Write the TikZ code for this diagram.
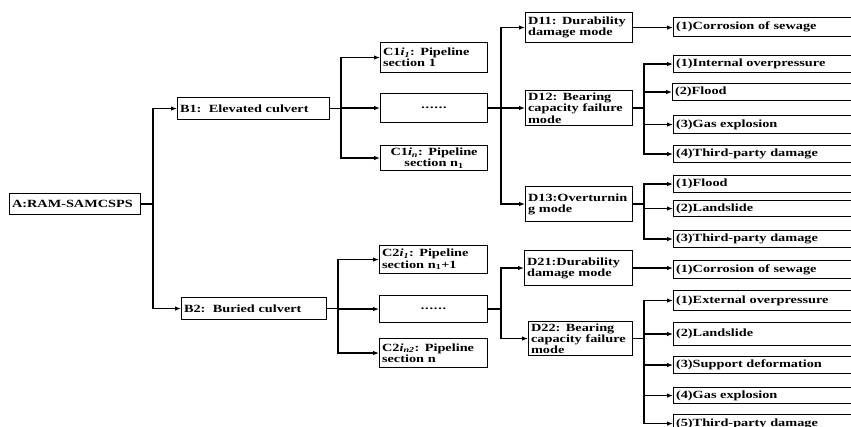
\documentclass[tikz,border=0pt]{standalone}
\usepackage{fontspec}
\setmainfont{Liberation Serif}[FakeStretch=1.3]
\usetikzlibrary{arrows.meta}

% box given by its left, top, right and bottom edges
\newcommand\mkbox[7][]{%
  \pgfmathsetmacro\bxw{#5-#3-5}%
  \pgfmathsetmacro\bxh{#6-#4}%
  \node[box,#1,text width=\bxw pt,minimum height=\bxh pt] (#2) at (#3,#4) {#7};}
% six spaced dots
\newcommand\sixdots{.\hspace{0.8pt}.\hspace{0.8pt}.\hspace{0.8pt}.\hspace{0.8pt}.\hspace{0.8pt}.}

\tikzset{
  box/.style={draw, line width=1.1pt, anchor=north west, inner xsep=2.5pt,
    inner ysep=0pt, align=left, font=\fontsize{11}{11.3}\selectfont\bfseries},
  ln/.style={line width=1.1pt},
  arr/.style={line width=1.1pt, -{Latex[length=6pt,width=4.5pt]}},
}

\begin{document}
\begin{tikzpicture}[x=1pt,y=-1pt]
\useasboundingbox (0,0) rectangle (851,427);
\clip (0,0) rectangle (851,427);

% level A and B
\mkbox{A}{9}{193}{140}{214}{A:RAM-SAMCSPS}
\mkbox{B1}{177}{97}{329}{119}{B1:~~Elevated culvert}
\mkbox{B2}{181}{297}{326}{319}{B2:~~Buried culvert}

% pipeline sections
\mkbox{C11}{380}{42}{487}{72}{C1\textit{i}\textsubscript{\textit{1}}: Pipeline\\section 1}
\mkbox[align=center]{C1d}{380}{93}{487}{122}{\sixdots}
\mkbox[align=center]{C1n}{380}{145}{487}{170}{C1\textit{i}\textsubscript{\textit{n}}: Pipeline\\section n\textsubscript{1}}
\mkbox{C21}{379}{245}{487}{273}{C2\textit{i}\textsubscript{\textit{1}}: Pipeline\\section n\textsubscript{1}+1}
\mkbox[align=center]{C2d}{379}{295}{487}{322}{\sixdots}
\mkbox{C2n}{379}{338}{487}{367}{C2\textit{i}\textsubscript{\textit{n2}}: Pipeline\\section n}

% damage modes
\mkbox{D11}{525}{12}{632}{42}{D11: Durability\\damage mode}
\mkbox{D12}{525}{90}{632}{125}{D12: Bearing\\capacity failure\\mode}
\mkbox{D13}{525}{186}{632}{221}{D13:Overturnin\\g mode}
\mkbox{D21}{524}{250}{632}{285}{D21:Durability\\damage mode}
\mkbox{D22}{528}{321}{632}{355}{D22: Bearing\\capacity failure\\mode}

% causes
\mkbox{E111}{673}{17}{900}{36}{(1)Corrosion of sewage}
\mkbox{E121}{673}{55}{900}{72}{(1)Internal overpressure}
\mkbox{E122}{672}{83}{900}{100}{(2)Flood}
\mkbox{E123}{673}{115}{900}{133}{(3)Gas explosion}
\mkbox{E124}{673}{145}{900}{162}{(4)Third-party damage}
\mkbox{E131}{673}{175}{900}{192}{(1)Flood}
\mkbox{E132}{673}{200}{900}{216}{(2)Landslide}
\mkbox{E133}{673}{230}{900}{247}{(3)Third-party damage}
\mkbox{E211}{673}{260}{900}{278}{(1)Corrosion of sewage}
\mkbox{E221}{673}{290}{900}{310}{(1)External overpressure}
\mkbox{E222}{673}{322}{900}{345}{(2)Landslide}
\mkbox{E223}{673}{356}{900}{373}{(3)Support deformation}
\mkbox{E224}{673}{387}{900}{403}{(4)Gas explosion}
\mkbox{E225}{673}{414}{900}{432}{(5)Third-party damage}

% trunk positions
\coordinate (tA) at (153,0);
\coordinate (tB1) at (341,0);
\coordinate (tB2) at (338,0);
\coordinate (tC1) at (501,0);
\coordinate (tC2) at (501,0);
\coordinate (tD) at (644,0);

% A -> B
\draw[ln] (A.east) -- (A.east -| tA);
\draw[arr] (A.east -| tA) |- (B1.west);
\draw[arr] (A.east -| tA) |- (B2.west);

% B -> C
\draw[ln] (B1.east) -- (B1.east -| tB1);
\foreach \n in {C11,C1d,C1n} \draw[arr] (B1.east -| tB1) |- (\n.west);
\draw[ln] (B2.east) -- (B2.east -| tB2);
\foreach \n in {C21,C2d,C2n} \draw[arr] (B2.east -| tB2) |- (\n.west);

% C -> D
\draw[ln] (C1d.east) -- (C1d.east -| tC1);
\foreach \n in {D11,D12,D13} \draw[arr] (C1d.east -| tC1) |- (\n.west);
\draw[ln] (C2d.east) -- (C2d.east -| tC2);
\foreach \n in {D21,D22} \draw[arr] (C2d.east -| tC2) |- (\n.west);

% D -> causes
\draw[arr] (D11.east) -- (D11.east -| E111.west);
\draw[arr] (D21.east) -- (D21.east -| E211.west);
\draw[ln] (D12.east) -- (D12.east -| tD);
\foreach \n in {E121,E122,E123,E124} \draw[arr] (D12.east -| tD) |- (\n.west);
\draw[ln] (D13.east) -- (D13.east -| tD);
\foreach \n in {E131,E132,E133} \draw[arr] (D13.east -| tD) |- (\n.west);
\draw[ln] (D22.east) -- (D22.east -| tD);
\foreach \n in {E221,E222,E223,E224,E225} \draw[arr] (D22.east -| tD) |- (\n.west);
\end{tikzpicture}
\end{document}
